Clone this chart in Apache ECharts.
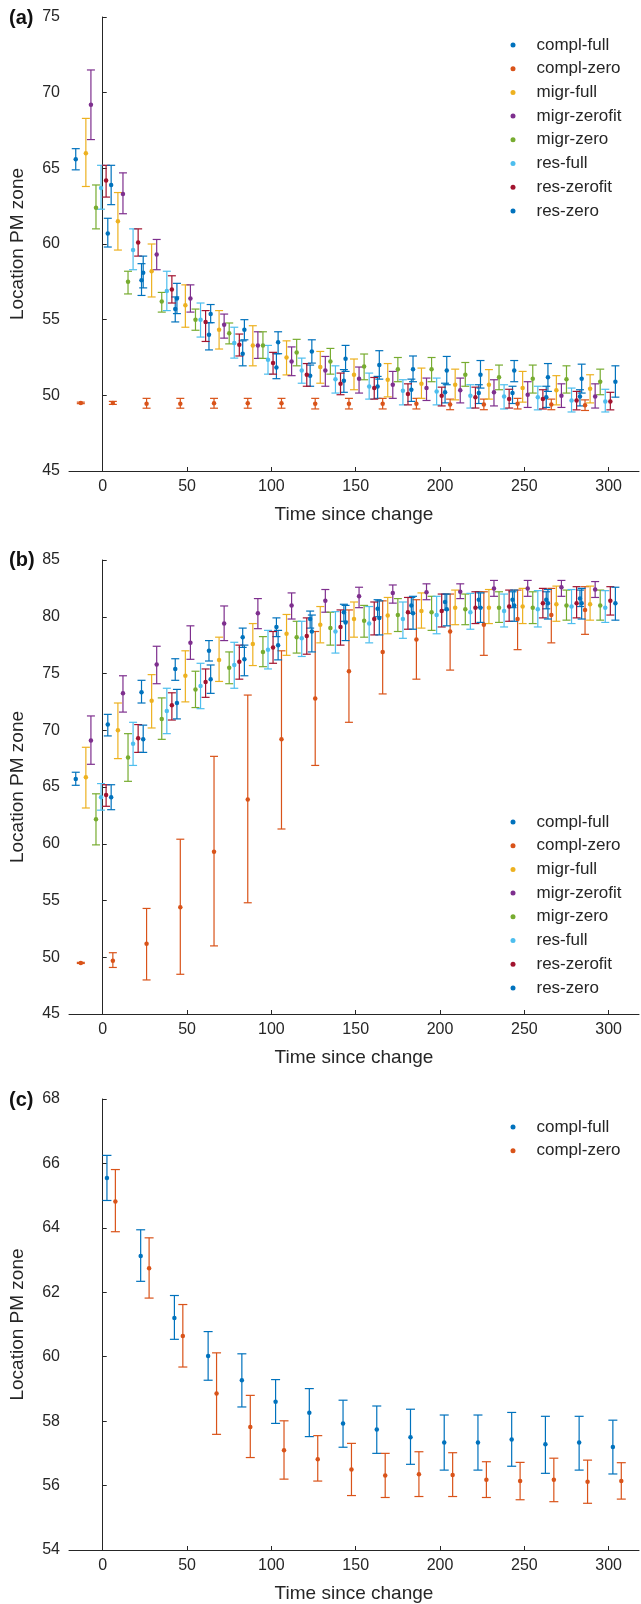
<!DOCTYPE html>
<html><head><meta charset="utf-8">
<script src="https://cdn.jsdelivr.net/npm/echarts@6/dist/echarts.min.js"></script>
<style>html,body{margin:0;padding:0;background:#fff}#c{width:641px;height:1604px}</style>
</head><body><div id="c"></div><script>
// ---------- data ----------
const seriesNames = ['compl-full','compl-zero','migr-full','migr-zerofit','migr-zero','res-full','res-zerofit','res-zero'];
const timesAB = [-19, 0, 20, 40, 60, 80, 100, 120, 140, 160, 180, 200, 220, 240, 260, 280];
const timesC = [0, 20, 40, 60, 80, 100, 120, 140, 160, 180, 200, 220, 240, 260, 280, 300];
const xTickValues = [0, 50, 100, 150, 200, 250, 300];

// Panel (a)
const a_complFull    = [65.6, 60.7, 57.6, 55.7, 54.0, 52.75, 51.84, 51.3, 50.96, 50.59, 50.37, 50.2, 50.15, 50.15, 49.88, 49.92];
const a_complFull_lo = [64.9, 59.8, 56.6, 54.85, 53.0, 51.95, 51.1, 50.6, 50.2, 49.8, 49.6, 49.5, 49.46, 49.46, 49.2, 49.3];
const a_complFull_hi = [66.3, 61.7, 58.7, 56.5, 54.8, 53.6, 52.75, 52.0, 51.7, 51.25, 51.07, 50.8, 50.7, 50.6, 50.6, 50.37];
const a_complZero    = [49.5, 49.5, 49.45, 49.45, 49.48, 49.48, 49.48, 49.45, 49.45, 49.45, 49.45, 49.4, 49.4, 49.45, 49.4, 49.35];
const a_complZero_lo = [49.45, 49.4, 49.15, 49.15, 49.15, 49.15, 49.15, 49.1, 49.1, 49.1, 49.1, 49.05, 49.05, 49.1, 49.05, 49.0];
const a_complZero_hi = [49.55, 49.6, 49.8, 49.8, 49.8, 49.8, 49.8, 49.8, 49.8, 49.8, 49.8, 49.75, 49.75, 49.8, 49.75, 49.7];
const a_migrFull     = [66.0, 61.5, 58.2, 55.95, 54.33, 53.3, 52.5, 51.87, 51.36, 51.03, 50.76, 50.7, 50.7, 50.48, 50.33, 50.44];
const a_migrFull_lo  = [63.8, 59.6, 56.5, 54.5, 53.06, 51.95, 51.35, 50.8, 50.37, 49.9, 49.8, 49.7, 49.75, 49.55, 49.37, 49.5];
const a_migrFull_hi  = [68.3, 63.4, 60.0, 57.3, 55.6, 54.6, 53.6, 52.9, 52.4, 52.1, 51.8, 51.73, 51.7, 51.58, 51.3, 51.36];
const a_migrZerofit    = [69.2, 63.3, 59.3, 56.4, 54.66, 53.3, 52.24, 51.64, 51.1, 50.7, 50.48, 50.33, 50.2, 50.04, 49.97, 49.92];
const a_migrZerofit_lo = [66.9, 62.0, 58.3, 55.5, 53.78, 52.44, 51.3, 50.6, 50.15, 49.8, 49.66, 49.5, 49.3, 49.2, 49.2, 49.16];
const a_migrZerofit_hi = [71.5, 64.7, 60.3, 57.3, 55.37, 54.2, 53.2, 52.57, 51.87, 51.58, 51.14, 51.14, 51.03, 50.9, 50.76, 50.76];
const a_migrZero     = [62.4, 57.5, 56.2, 55.0, 54.1, 53.3, 52.83, 52.24, 51.9, 51.73, 51.73, 51.36, 51.2, 51.1, 51.07, 50.9];
const a_migrZero_lo  = [61.0, 56.7, 55.5, 54.3, 53.4, 52.44, 51.95, 51.4, 51.03, 50.9, 50.9, 50.6, 50.37, 50.15, 50.15, 50.04];
const a_migrZero_hi  = [63.9, 58.2, 56.8, 55.7, 54.78, 54.2, 53.7, 53.1, 52.73, 52.5, 52.5, 52.17, 52.0, 52.0, 51.95, 51.73];
const a_resFull      = [63.7, 59.6, 56.9, 55.0, 53.45, 52.35, 51.64, 51.07, 50.59, 50.3, 50.26, 49.97, 49.92, 49.88, 49.66, 49.6];
const a_resFull_lo   = [62.3, 58.3, 55.6, 53.85, 52.46, 51.4, 50.8, 50.15, 49.75, 49.37, 49.37, 49.16, 49.1, 49.04, 48.9, 48.9];
const a_resFull_hi   = [65.2, 61.0, 58.2, 56.1, 54.5, 53.3, 52.46, 51.95, 51.47, 51.03, 51.14, 50.7, 50.7, 50.6, 50.48, 50.4];
const a_resZerofit    = [64.2, 60.1, 57.0, 54.84, 53.34, 52.13, 51.36, 50.76, 50.48, 50.08, 49.97, 49.88, 49.75, 49.75, 49.66, 49.6];
const a_resZerofit_lo = [63.1, 59.2, 56.1, 53.56, 52.6, 51.4, 50.6, 50.04, 49.75, 49.37, 49.3, 49.16, 49.16, 49.1, 49.04, 49.04];
const a_resZerofit_hi = [65.2, 61.0, 57.9, 55.6, 54.05, 52.84, 52.1, 51.47, 51.18, 50.76, 50.54, 50.54, 50.4, 50.37, 50.26, 50.2];
const a_resZero      = [63.9, 58.1, 56.4, 55.37, 54.33, 53.5, 52.9, 52.41, 52.0, 51.73, 51.64, 51.36, 51.64, 51.2, 51.1, 50.9];
const a_resZero_lo   = [62.6, 57.1, 55.4, 54.8, 53.67, 52.75, 52.13, 51.58, 51.07, 50.9, 50.7, 50.48, 50.9, 50.26, 50.15, 49.88];
const a_resZero_hi   = [65.2, 59.2, 57.4, 56.0, 55.0, 54.2, 53.67, 53.3, 52.95, 52.6, 52.57, 52.3, 52.3, 52.1, 52.06, 51.95];

// Panel (b)
const b_complFull    = [65.7, 70.5, 73.35, 75.4, 77.0, 78.2, 79.1, 79.8, 80.4, 80.7, 81.0, 81.3, 81.5, 81.5, 81.5, 81.6];
const b_complFull_lo = [65.15, 69.5, 72.4, 74.4, 76.1, 77.3, 78.25, 79.0, 79.6, 80.0, 80.3, 80.6, 80.8, 80.8, 80.7, 80.9];
const b_complFull_hi = [66.3, 71.4, 74.4, 76.3, 77.9, 79.0, 79.9, 80.5, 81.1, 81.5, 81.7, 82.0, 82.2, 82.2, 82.2, 82.35];
const b_complZero    = [49.5, 49.7, 51.2, 54.4, 59.3, 63.9, 69.2, 72.8, 75.2, 76.9, 78.0, 78.7, 79.3, 79.8, 80.15, 80.6];
const b_complZero_lo = [49.45, 49.1, 48.0, 48.5, 51.0, 54.8, 61.3, 66.9, 70.7, 73.2, 74.5, 75.3, 76.6, 77.1, 77.7, 78.45];
const b_complZero_hi = [49.55, 50.4, 54.3, 60.4, 67.7, 73.1, 77.0, 78.7, 80.6, 81.4, 81.5, 82.0, 82.2, 82.35, 82.5, 82.65];
const b_migrFull     = [65.85, 70.0, 72.6, 74.8, 76.2, 77.6, 78.5, 79.3, 79.8, 80.1, 80.5, 80.8, 80.8, 80.9, 81.1, 81.1];
const b_migrFull_lo  = [63.15, 67.5, 70.2, 72.5, 74.3, 75.7, 76.6, 77.7, 78.2, 78.5, 79.0, 79.3, 79.4, 79.4, 79.6, 79.7];
const b_migrFull_hi  = [68.5, 72.4, 74.9, 77.0, 78.2, 79.4, 80.2, 80.9, 81.3, 81.7, 82.1, 82.35, 82.4, 82.5, 82.7, 82.7];
const b_migrZerofit    = [69.1, 73.25, 75.8, 77.7, 79.4, 80.3, 81.0, 81.4, 81.8, 82.1, 82.15, 82.2, 82.5, 82.5, 82.6, 82.4];
const b_migrZerofit_lo = [67.0, 71.6, 74.1, 76.25, 77.9, 78.95, 79.8, 80.4, 80.8, 81.2, 81.5, 81.6, 81.8, 81.8, 81.8, 81.7];
const b_migrZerofit_hi = [71.26, 74.8, 77.4, 79.2, 80.95, 81.6, 82.1, 82.4, 82.6, 82.8, 82.9, 82.9, 83.2, 83.2, 83.2, 83.1];
const b_migrZero     = [62.15, 67.6, 71.0, 73.6, 75.5, 76.9, 78.2, 79.0, 79.65, 80.15, 80.4, 80.65, 80.8, 80.8, 81.0, 81.0];
const b_migrZero_lo  = [59.9, 65.5, 69.2, 72.0, 74.1, 75.6, 76.8, 77.5, 78.2, 78.7, 78.8, 79.3, 79.5, 79.4, 79.7, 79.7];
const b_migrZero_hi  = [64.4, 69.7, 72.85, 75.2, 76.9, 78.25, 79.6, 80.4, 81.0, 81.6, 81.8, 82.0, 82.2, 82.2, 82.35, 82.35];
const b_resFull      = [64.1, 68.8, 71.7, 73.9, 75.75, 77.1, 78.1, 78.7, 79.4, 79.8, 80.15, 80.4, 80.5, 80.65, 80.9, 80.8];
const b_resFull_lo   = [62.96, 66.9, 69.7, 71.9, 73.7, 75.4, 76.5, 76.8, 77.7, 78.1, 78.5, 78.9, 79.1, 79.1, 79.4, 79.5];
const b_resFull_hi   = [65.3, 70.7, 73.7, 75.9, 77.75, 78.8, 79.6, 80.45, 80.9, 81.3, 81.8, 82.06, 82.0, 82.3, 82.4, 82.3];
const b_resZerofit    = [64.3, 69.3, 72.2, 74.25, 76.04, 77.3, 78.3, 79.1, 79.8, 80.4, 80.5, 80.8, 80.9, 81.2, 81.2, 81.4];
const b_resZerofit_lo = [63.3, 68.05, 70.9, 72.9, 74.5, 75.9, 76.7, 77.5, 78.4, 78.9, 79.1, 79.4, 79.6, 79.9, 79.9, 80.15];
const b_resZerofit_hi = [65.2, 70.5, 73.3, 75.4, 77.5, 78.7, 79.9, 80.6, 81.3, 81.7, 82.0, 82.2, 82.35, 82.5, 82.65, 82.65];
const b_resZero      = [64.1, 69.2, 72.4, 74.5, 76.25, 77.5, 78.7, 79.5, 79.9, 80.3, 80.65, 80.8, 81.0, 81.2, 81.2, 81.2];
const b_resZero_lo   = [63.0, 68.05, 71.0, 73.25, 74.8, 76.2, 76.9, 77.9, 78.4, 78.9, 79.2, 79.5, 79.6, 79.8, 79.8, 79.7];
const b_resZero_hi   = [65.2, 70.45, 73.6, 75.75, 77.5, 78.8, 80.15, 81.0, 81.4, 81.8, 82.0, 82.1, 82.35, 82.4, 82.5, 82.6];

// Panel (c)
const c_complFull    = [65.55, 63.13, 61.2, 60.02, 59.27, 58.6, 58.26, 57.93, 57.74, 57.5, 57.34, 57.34, 57.43, 57.28, 57.34, 57.2];
const c_complFull_lo = [64.85, 62.34, 60.54, 59.27, 58.44, 57.93, 57.52, 57.19, 57.0, 56.66, 56.48, 56.48, 56.6, 56.38, 56.48, 56.36];
const c_complFull_hi = [66.25, 63.94, 61.9, 60.78, 60.09, 59.29, 59.01, 58.65, 58.47, 58.37, 58.19, 58.19, 58.27, 58.15, 58.15, 58.03];
const c_complZero    = [64.82, 62.75, 60.64, 58.86, 57.82, 57.1, 56.82, 56.5, 56.31, 56.35, 56.33, 56.18, 56.14, 56.18, 56.12, 56.14];
const c_complZero_lo = [63.88, 61.82, 59.68, 57.59, 56.87, 56.2, 56.14, 55.69, 55.63, 55.66, 55.66, 55.63, 55.56, 55.5, 55.45, 55.58];
const c_complZero_hi = [65.81, 63.69, 61.62, 60.12, 58.8, 58.01, 57.55, 57.31, 57.0, 57.05, 57.02, 56.74, 56.72, 56.85, 56.79, 56.71];

// ---------- assembly ----------
const COLORS = ['#0072BD','#D95319','#EDB120','#7E2F8E','#77AC30','#4DBEEE','#A2142F','#0072BD'];
const AX = '#262626', TXT = '#262626';
const FONT = '"Liberation Sans", Arial, Helvetica, sans-serif';

const panelA = [
  [a_complFull, a_complFull_lo, a_complFull_hi], [a_complZero, a_complZero_lo, a_complZero_hi],
  [a_migrFull, a_migrFull_lo, a_migrFull_hi], [a_migrZerofit, a_migrZerofit_lo, a_migrZerofit_hi],
  [a_migrZero, a_migrZero_lo, a_migrZero_hi], [a_resFull, a_resFull_lo, a_resFull_hi],
  [a_resZerofit, a_resZerofit_lo, a_resZerofit_hi], [a_resZero, a_resZero_lo, a_resZero_hi]];
const panelB = [
  [b_complFull, b_complFull_lo, b_complFull_hi], [b_complZero, b_complZero_lo, b_complZero_hi],
  [b_migrFull, b_migrFull_lo, b_migrFull_hi], [b_migrZerofit, b_migrZerofit_lo, b_migrZerofit_hi],
  [b_migrZero, b_migrZero_lo, b_migrZero_hi], [b_resFull, b_resFull_lo, b_resFull_hi],
  [b_resZerofit, b_resZerofit_lo, b_resZerofit_hi], [b_resZero, b_resZero_lo, b_resZero_hi]];
const panelC = [
  [c_complFull, c_complFull_lo, c_complFull_hi], [c_complZero, c_complZero_lo, c_complZero_hi]];

const dodgeAB = i => 3 * (i + 1);
const dodgeC = i => 2.5 + 5 * i;

function makeErr(capHalf) {
  return function (params, api) {
    const x = api.value(0), lo = api.value(1), hi = api.value(2);
    const p1 = api.coord([x, lo]), p2 = api.coord([x, hi]);
    const st = { stroke: api.visual('color'), lineWidth: 1.2 };
    return { type: 'group', children: [
      { type: 'line', shape: { x1: p1[0], y1: p1[1], x2: p2[0], y2: p2[1] }, style: st },
      { type: 'line', shape: { x1: p1[0] - capHalf, y1: p1[1], x2: p1[0] + capHalf, y2: p1[1] }, style: st },
      { type: 'line', shape: { x1: p2[0] - capHalf, y1: p2[1], x2: p2[0] + capHalf, y2: p2[1] }, style: st }
    ]};
  };
}

const series = [];
function addPanel(gi, panel, times, dodge, capHalf) {
  panel.forEach((s, i) => {
    const [m, lo, hi] = s;
    const xs = times.map(t => t + dodge(i));
    series.push({
      type: 'custom', xAxisIndex: gi, yAxisIndex: gi, renderItem: makeErr(capHalf),
      itemStyle: { color: COLORS[i] }, encode: { x: 0, y: [1, 2] }, z: 2, silent: true,
      data: xs.map((x, k) => [x, lo[k], hi[k]])
    });
    series.push({
      type: 'scatter', name: seriesNames[i], xAxisIndex: gi, yAxisIndex: gi,
      symbol: 'circle', symbolSize: 4.5, itemStyle: { color: COLORS[i], opacity: 1 }, z: 3,
      data: xs.map((x, k) => [x, m[k]])
    });
  });
}
addPanel(0, panelA, timesAB, dodgeAB, 4);
addPanel(1, panelB, timesAB, dodgeAB, 4);
addPanel(2, panelC, timesC, dodgeC, 4.5);

const grids = [
  { left: 69, right: 2, top: 17, height: 454 },
  { left: 69, right: 2, top: 560, height: 454 },
  { left: 69, right: 2, top: 1099, height: 455 }
];
function xAx(gi) {
  return { type: 'value', gridIndex: gi, min: -20, max: 318,
    name: 'Time since change', nameLocation: 'middle', nameGap: 34,
    nameTextStyle: { fontSize: 19, color: TXT, fontFamily: FONT },
    axisLine: { lineStyle: { color: AX, width: 1 } },
    axisTick: { inside: true, length: 4, customValues: xTickValues, lineStyle: { color: AX } },
    axisLabel: { customValues: xTickValues, fontSize: 16, color: TXT, fontFamily: FONT, margin: 8 },
    splitLine: { show: false } };
}
function yAx(gi, min, max, step) {
  return { type: 'value', gridIndex: gi, min: min, max: max, interval: step,
    name: 'Location PM zone', nameLocation: 'middle', nameGap: 42,
    nameTextStyle: { fontSize: 19, color: TXT, fontFamily: FONT },
    axisLine: { show: true, lineStyle: { color: AX, width: 1 } },
    axisTick: { show: true, inside: true, length: 4, lineStyle: { color: AX } },
    axisLabel: { fontSize: 16, color: TXT, fontFamily: FONT, margin: 9 },
    splitLine: { show: false } };
}
function legend(top, names) {
  return { orient: 'vertical', left: 510.5, top: top, padding: 0, itemGap: 5.7,
    icon: 'circle', itemWidth: 5, itemHeight: 5, selectedMode: false, data: names,
    textStyle: { fontSize: 17, color: TXT, fontFamily: FONT, lineHeight: 18, padding: [0, 0, 0, 16] } };
}

const chart = echarts.init(document.getElementById('c'), null, { renderer: 'canvas' });
chart.setOption({
  animation: false,
  backgroundColor: '#fff',
  textStyle: { fontFamily: FONT },
  grid: grids,
  xAxis: [xAx(0), xAx(1), xAx(2)],
  yAxis: [yAx(0, 45, 75, 5), yAx(1, 45, 85, 5), yAx(2, 54, 68, 2)],
  legend: [legend(36, seriesNames), legend(813, seriesNames), legend(1118, seriesNames.slice(0, 2))],
  graphic: [
    { type: 'text', left: 9, top: 8, style: { text: '(a)', fontSize: 20, fontWeight: 'bold', fill: '#111', fontFamily: FONT } },
    { type: 'text', left: 9, top: 550, style: { text: '(b)', fontSize: 20, fontWeight: 'bold', fill: '#111', fontFamily: FONT } },
    { type: 'text', left: 9, top: 1090, style: { text: '(c)', fontSize: 20, fontWeight: 'bold', fill: '#111', fontFamily: FONT } }
  ],
  series: series
});
</script></body></html>
